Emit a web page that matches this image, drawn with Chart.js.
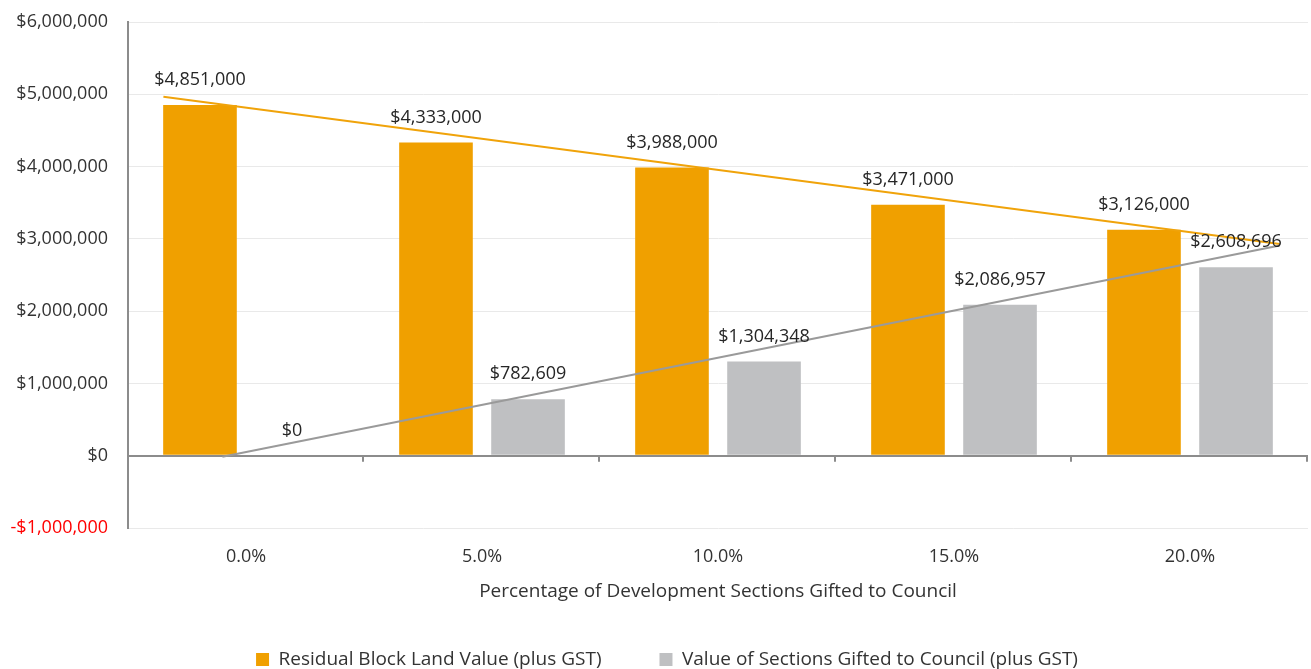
<!DOCTYPE html>
<html>
<head>
<meta charset="utf-8">
<title>Residual Block Land Value</title>
<script src="https://cdn.jsdelivr.net/npm/chart.js@4.4.1/dist/chart.umd.min.js"></script>
<style>
  html, body { margin: 0; padding: 0; background: #fff; }
  canvas { display: block; }
</style>
</head>
<body>
<canvas id="chart" width="1311" height="669"></canvas>
<script>
// share of sections gifted, one group of bars each
const categories = ['0.0%', '5.0%', '10.0%', '15.0%', '20.0%'];
const residualValues = [4851000, 4333000, 3988000, 3471000, 3126000];
const giftedValues = [0, 782609, 1304348, 2086957, 2608696];
const yTickValues = [-1000000, 0, 1000000, 2000000, 3000000, 4000000, 5000000, 6000000];

const FONT = '"Open Sans", "Noto Sans", sans-serif';
const NUM_SIZE = 18;
const WORD_SIZE = 19;
const TEXT = '#333333';
const ORANGE = '#f0a000';
const GREY = '#bfc0c2';
const AXIS = '#8c8c8c';

function money(v) {
  return (v < 0 ? '-' : '') + '$' + Math.abs(v).toLocaleString('en-US');
}

// least squares line through the values, x = category index
function linearTrend(values) {
  const n = values.length;
  const mx = (n - 1) / 2;
  const my = values.reduce((a, b) => a + b, 0) / n;
  let sxy = 0, sxx = 0;
  values.forEach((v, i) => {
    sxy += (i - mx) * (v - my);
    sxx += (i - mx) * (i - mx);
  });
  const slope = sxy / sxx;
  return x => my + slope * (x - mx);
}

// trend lines, run from/to in category units on the hidden trendX scale
const trends = [
  { values: residualValues, from: -0.35, to: 4.38, color: '#f0a30a' },
  { values: giftedValues, from: -0.1, to: 4.38, color: '#9a9a9a' }
];

const trendLines = {
  id: 'trendLines',
  afterDatasetsDraw(chart) {
    const { ctx } = chart;
    const tx = chart.scales.trendX;
    const y = chart.scales.y;
    ctx.save();
    ctx.lineWidth = 2;
    trends.forEach(t => {
      const f = linearTrend(t.values);
      ctx.strokeStyle = t.color;
      ctx.beginPath();
      ctx.moveTo(tx.getPixelForValue(t.from), y.getPixelForValue(f(t.from)));
      ctx.lineTo(tx.getPixelForValue(t.to), y.getPixelForValue(f(t.to)));
      ctx.stroke();
    });
    ctx.restore();
  }
};

// value labels above each bar
const barLabels = {
  id: 'barLabels',
  afterDatasetsDraw(chart) {
    const ctx = chart.ctx;
    ctx.save();
    ctx.font = NUM_SIZE + 'px ' + FONT;
    ctx.fillStyle = '#262626';
    ctx.textAlign = 'center';
    ctx.textBaseline = 'middle';
    chart.data.datasets.forEach((ds, di) => {
      chart.getDatasetMeta(di).data.forEach((bar, i) => {
        ctx.fillText(money(ds.data[i]), bar.x, bar.y - 25);
      });
    });
    ctx.restore();
  }
};

// small tick marks hanging off the zero line between groups
const zeroTicks = {
  id: 'zeroTicks',
  afterDraw(chart) {
    const { ctx, chartArea } = chart;
    const y0 = chart.scales.y.getPixelForValue(0);
    const step = (chartArea.right - chartArea.left) / categories.length;
    ctx.save();
    ctx.strokeStyle = AXIS;
    ctx.lineWidth = 2;
    ctx.beginPath();
    for (let i = 1; i <= categories.length; i++) {
      const x = Math.round(chartArea.left + i * step) - 1;
      ctx.moveTo(x, y0);
      ctx.lineTo(x, y0 + 6);
    }
    ctx.stroke();
    ctx.restore();
  }
};

// nudge the legend row a little right of the canvas centre
const legendShift = {
  id: 'legendShift',
  afterLayout(chart) {
    chart.legend.left += 13;
    chart.legend.right += 13;
  }
};

new Chart(document.getElementById('chart'), {
  type: 'bar',
  data: {
    labels: categories,
    datasets: [
      {
        label: 'Residual Block Land Value (plus GST)',
        data: residualValues,
        backgroundColor: ORANGE,
        categoryPercentage: 0.78,
        barPercentage: 0.8
      },
      {
        label: 'Value of Sections Gifted to Council (plus GST)',
        data: giftedValues,
        backgroundColor: GREY,
        categoryPercentage: 0.78,
        barPercentage: 0.8
      }
    ]
  },
  options: {
    responsive: false,
    animation: false,
    layout: { padding: { left: 0, right: 3, top: 22, bottom: -10 } },
    plugins: {
      tooltip: { enabled: false },
      legend: {
        position: 'bottom',
        labels: {
          boxWidth: 13,
          boxHeight: 13,
          padding: 58,
          color: TEXT,
          font: { family: FONT, size: WORD_SIZE }
        }
      }
    },
    scales: {
      x: {
        grid: { display: false, drawTicks: false },
        border: { display: false },
        ticks: { padding: 18, color: TEXT, font: { family: FONT, size: NUM_SIZE } },
        title: {
          display: true,
          text: 'Percentage of Development Sections Gifted to Council',
          color: TEXT,
          font: { family: FONT, size: WORD_SIZE },
          padding: { top: 12, bottom: -11 }
        },
        afterFit: s => { s.height = 64; }
      },
      trendX: {
        type: 'linear',
        axis: 'x',
        position: 'bottom',
        display: false,
        offset: false,
        min: -0.5,
        max: categories.length - 0.5
      },
      y: {
        min: yTickValues[0],
        max: yTickValues[yTickValues.length - 1],
        afterBuildTicks: s => { s.ticks = yTickValues.map(v => ({ value: v })); },
        afterFit: s => {
          s.width = 128;
          s.paddingTop = 0;
          s.paddingBottom = 0;
        },
        border: { color: AXIS, width: 2 },
        grid: {
          drawTicks: false,
          color: c => (c.tick && c.tick.value === 0 ? AXIS : '#e9e9e9'),
          lineWidth: c => (c.tick && c.tick.value === 0 ? 2 : 1)
        },
        ticks: {
          padding: 20,
          color: c => (c.tick.value < 0 ? '#ff0000' : TEXT),
          font: { family: FONT, size: NUM_SIZE },
          callback: v => money(v)
        }
      }
    }
  },
  plugins: [trendLines, barLabels, zeroTicks, legendShift]
});
</script>
</body>
</html>
